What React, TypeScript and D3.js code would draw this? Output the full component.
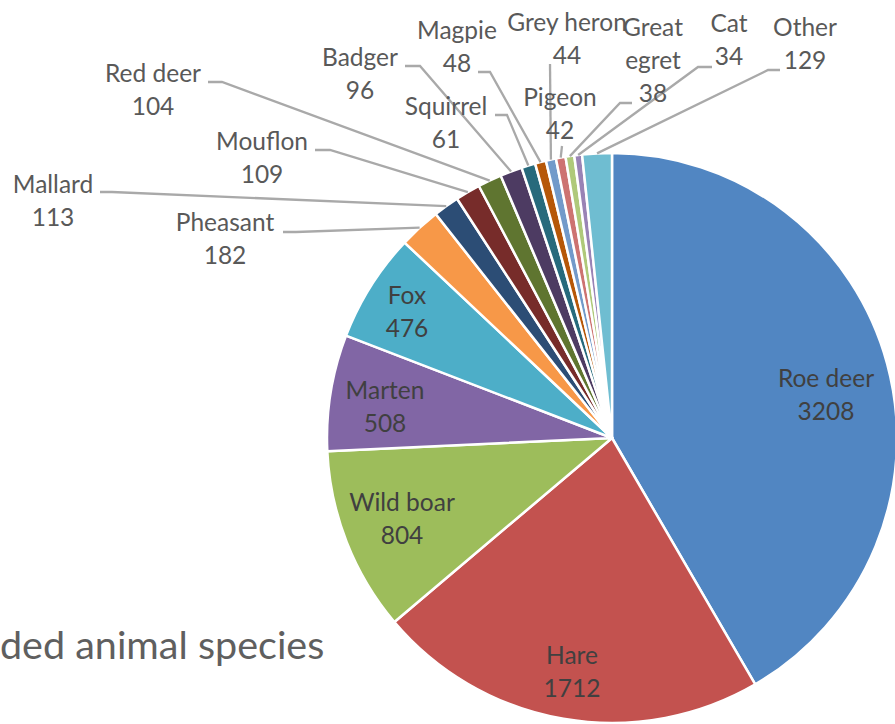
import React from "react";
import * as d3 from "d3";

const categories = [
  "Roe deer", "Hare", "Wild boar", "Marten", "Fox", "Pheasant", "Mallard", "Mouflon",
  "Red deer", "Badger", "Squirrel", "Magpie", "Grey heron", "Pigeon", "Great egret", "Cat", "Other",
];
const values = [3208, 1712, 804, 508, 476, 182, 113, 109, 104, 96, 61, 48, 44, 42, 38, 34, 129];
const colors = [
  "#5186C2", "#C3524F", "#9DBD5B", "#8166A5", "#4DAEC8", "#F79848", "#2C4D75", "#772C2A",
  "#5F7530", "#4D3B62", "#276A7C", "#B65708", "#729ACA", "#CD7371", "#AFC97A", "#9983B5", "#6FBDD1",
];
const titleText = "ded animal species";

// layout (positions only)
const W = 895, H = 724;
const CX = 612, CY = 438, R = 285;
const FONT = "Lato, 'Open Sans', sans-serif";
const FS = 24.5;
const LH = 33;

type Lbl = { x: number; y: number; lines?: string[]; inside?: boolean; start?: [number, number]; elbow?: [number, number] };
const labelLayout: Record<string, Lbl> = {
  "Roe deer": { x: 826, y: 378, inside: true },
  "Hare": { x: 572, y: 655, inside: true },
  "Wild boar": { x: 402, y: 502, inside: true },
  "Marten": { x: 385, y: 390, inside: true },
  "Fox": { x: 407, y: 295, inside: true },
  "Pheasant": { x: 225, y: 222, start: [283, 232], elbow: [296, 232] },
  "Mallard": { x: 53, y: 184, start: [100, 192], elbow: [112, 192] },
  "Mouflon": { x: 262, y: 141, start: [315, 150], elbow: [330, 150] },
  "Red deer": { x: 153, y: 73, start: [208, 82], elbow: [222, 82] },
  "Badger": { x: 360, y: 57, start: [405, 66], elbow: [420, 66] },
  "Squirrel": { x: 446, y: 106, start: [495, 115], elbow: [507, 115] },
  "Magpie": { x: 457, y: 30, start: [478, 72], elbow: [490, 72] },
  "Grey heron": { x: 567, y: 22, start: [550, 64], elbow: [550, 64] },
  "Pigeon": { x: 560, y: 97, start: [562, 146], elbow: [562, 146] },
  "Great egret": { x: 653, y: 27, lines: ["Great", "egret"], start: [632, 103], elbow: [620, 103] },
  "Cat": { x: 729, y: 23, start: [712, 67], elbow: [698, 67] },
  "Other": { x: 805, y: 27, start: [780, 70], elbow: [768, 70] },
};

export default function App() {
  const pie = d3.pie<number>().sort(null).value((d) => d).startAngle(0).endAngle(2 * Math.PI);
  const arcs = pie(values);
  const arcGen = d3.arc<d3.PieArcDatum<number>>().innerRadius(0).outerRadius(R);

  return (
    <div style={{ position: "absolute", left: 0, top: 0 }}>
      <svg width={W} height={H} viewBox={`0 0 ${W} ${H}`} style={{ display: "block", background: "#fff" }}>
        <g transform={`translate(${CX},${CY})`}>
          {arcs.map((a, i) => (
            <path key={i} d={arcGen(a) || ""} fill={colors[i]} stroke="#fff" strokeWidth={2.5} strokeLinejoin="round" />
          ))}
        </g>
        {arcs.map((a, i) => {
          const name = categories[i];
          const L = labelLayout[name];
          if (!L || L.inside || !L.start || !L.elbow) return null;
          const mid = (a.startAngle + a.endAngle) / 2;
          const ex = CX + R * Math.sin(mid);
          const ey = CY - R * Math.cos(mid);
          const pts = `${L.start[0]},${L.start[1]} ${L.elbow[0]},${L.elbow[1]} ${ex},${ey}`;
          return <polyline key={"l" + i} points={pts} fill="none" stroke="#a9a9a9" strokeWidth={2.3} />;
        })}
        {arcs.map((a, i) => {
          const name = categories[i];
          const L = labelLayout[name];
          if (!L) return null;
          const lines = [...(L.lines || [name]), String(values[i])];
          return (
            <text key={"t" + i} fontFamily={FONT} fontSize={FS} fill={L.inside ? "#404040" : "#595959"} textAnchor="middle">
              {lines.map((s, j) => (
                <tspan key={j} x={L.x} y={L.y + j * LH + FS * 0.35}>{s}</tspan>
              ))}
            </text>
          );
        })}
        <text x={0} y={659} fontFamily={FONT} fontSize={39.5} fill="#5f5f5f">{titleText}</text>
      </svg>
    </div>
  );
}
